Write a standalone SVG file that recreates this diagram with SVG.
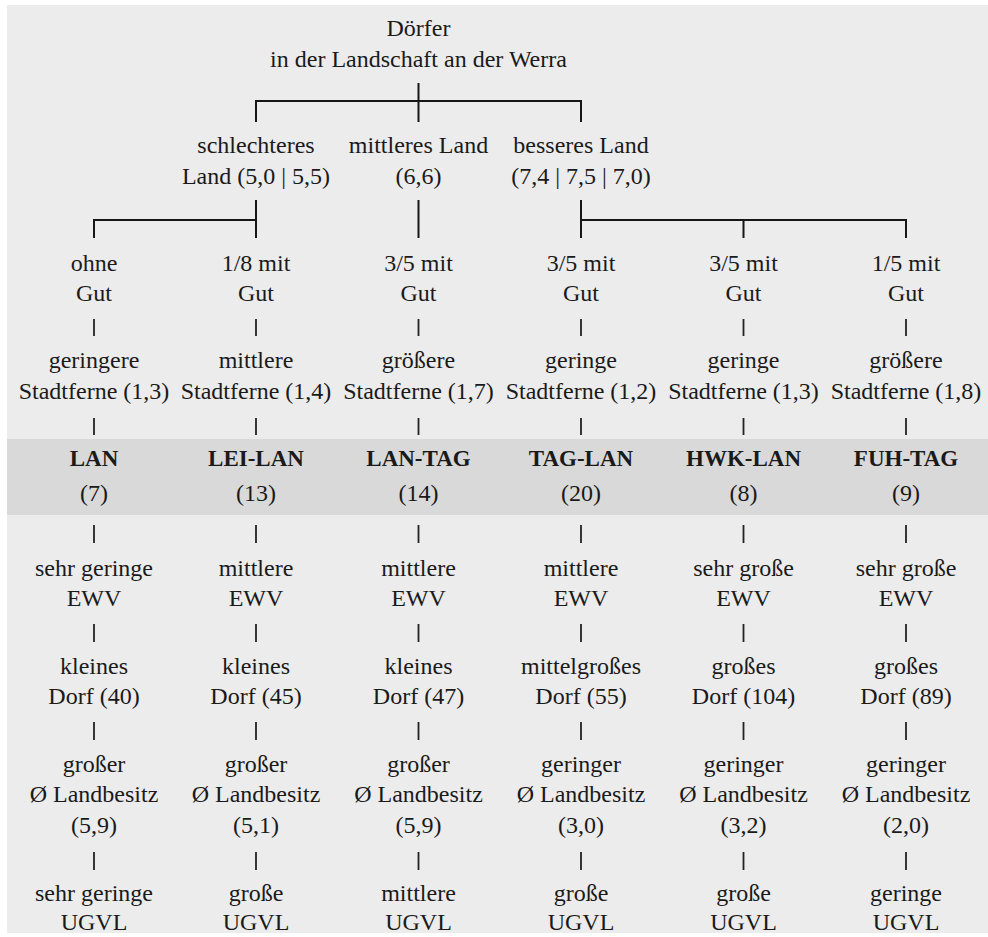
<svg xmlns="http://www.w3.org/2000/svg" width="988" height="937" viewBox="0 0 988 937">
<style>
text{font-family:"Liberation Serif","Times New Roman",serif;font-size:24px;fill:#1a1a1a;text-anchor:middle}
.b{font-weight:bold;font-size:23px}
.c line{stroke:#161616;stroke-width:2}
.p line{stroke:#222;stroke-width:1.8}
</style>
<rect x="0" y="0" width="988" height="937" fill="#ffffff"/>
<rect x="7" y="5" width="981" height="928" fill="#ececec"/>
<rect x="7" y="439" width="981" height="76" fill="#d9d9d9"/>
<g id="connectors">
<g class="c">
<line x1="418.5" y1="83" x2="418.5" y2="122"/>
<line x1="255" y1="101" x2="582" y2="101"/>
<line x1="256" y1="100" x2="256" y2="122"/>
<line x1="581" y1="100" x2="581" y2="122"/>
<line x1="256" y1="200" x2="256" y2="238"/>
<line x1="93" y1="220" x2="257" y2="220"/>
<line x1="94" y1="219" x2="94" y2="238"/>
<line x1="418.5" y1="200" x2="418.5" y2="238"/>
<line x1="581" y1="200" x2="581" y2="238"/>
<line x1="580" y1="220" x2="907" y2="220"/>
<line x1="743.5" y1="220" x2="743.5" y2="238"/>
<line x1="906" y1="219" x2="906" y2="238"/>
</g>
<g class="p">
<line x1="94" y1="319" x2="94" y2="336"/><line x1="256" y1="319" x2="256" y2="336"/><line x1="418.5" y1="319" x2="418.5" y2="336"/><line x1="581" y1="319" x2="581" y2="336"/><line x1="743.5" y1="319" x2="743.5" y2="336"/><line x1="906" y1="319" x2="906" y2="336"/>
<line x1="94" y1="418" x2="94" y2="435"/><line x1="256" y1="418" x2="256" y2="435"/><line x1="418.5" y1="418" x2="418.5" y2="435"/><line x1="581" y1="418" x2="581" y2="435"/><line x1="743.5" y1="418" x2="743.5" y2="435"/><line x1="906" y1="418" x2="906" y2="435"/>
<line x1="94" y1="525" x2="94" y2="543"/><line x1="256" y1="525" x2="256" y2="543"/><line x1="418.5" y1="525" x2="418.5" y2="543"/><line x1="581" y1="525" x2="581" y2="543"/><line x1="743.5" y1="525" x2="743.5" y2="543"/><line x1="906" y1="525" x2="906" y2="543"/>
<line x1="94" y1="624" x2="94" y2="642"/><line x1="256" y1="624" x2="256" y2="642"/><line x1="418.5" y1="624" x2="418.5" y2="642"/><line x1="581" y1="624" x2="581" y2="642"/><line x1="743.5" y1="624" x2="743.5" y2="642"/><line x1="906" y1="624" x2="906" y2="642"/>
<line x1="94" y1="722" x2="94" y2="740"/><line x1="256" y1="722" x2="256" y2="740"/><line x1="418.5" y1="722" x2="418.5" y2="740"/><line x1="581" y1="722" x2="581" y2="740"/><line x1="743.5" y1="722" x2="743.5" y2="740"/><line x1="906" y1="722" x2="906" y2="740"/>
<line x1="94" y1="852" x2="94" y2="870"/><line x1="256" y1="852" x2="256" y2="870"/><line x1="418.5" y1="852" x2="418.5" y2="870"/><line x1="581" y1="852" x2="581" y2="870"/><line x1="743.5" y1="852" x2="743.5" y2="870"/><line x1="906" y1="852" x2="906" y2="870"/>
</g>
</g>
<g id="root"><text x="418.5" y="36">Dörfer</text><text x="418.5" y="67">in der Landschaft an der Werra</text></g>
<g id="land-schlecht"><text x="256" y="153">schlechteres</text><text x="256" y="184">Land (5,0 | 5,5)</text></g>
<g id="land-mittel"><text x="418.5" y="153">mittleres Land</text><text x="418.5" y="184">(6,6)</text></g>
<g id="land-besser"><text x="581" y="153">besseres Land</text><text x="581" y="184">(7,4 | 7,5 | 7,0)</text></g>
<g id="gut-1"><text x="94" y="271">ohne</text><text x="94" y="301">Gut</text></g>
<g id="gut-2"><text x="256" y="271">1/8 mit</text><text x="256" y="301">Gut</text></g>
<g id="gut-3"><text x="418.5" y="271">3/5 mit</text><text x="418.5" y="301">Gut</text></g>
<g id="gut-4"><text x="581" y="271">3/5 mit</text><text x="581" y="301">Gut</text></g>
<g id="gut-5"><text x="743.5" y="271">3/5 mit</text><text x="743.5" y="301">Gut</text></g>
<g id="gut-6"><text x="906" y="271">1/5 mit</text><text x="906" y="301">Gut</text></g>
<g id="stadt-1"><text x="94" y="368">geringere</text><text x="94" y="399">Stadtferne (1,3)</text></g>
<g id="stadt-2"><text x="256" y="368">mittlere</text><text x="256" y="399">Stadtferne (1,4)</text></g>
<g id="stadt-3"><text x="418.5" y="368">größere</text><text x="418.5" y="399">Stadtferne (1,7)</text></g>
<g id="stadt-4"><text x="581" y="368">geringe</text><text x="581" y="399">Stadtferne (1,2)</text></g>
<g id="stadt-5"><text x="743.5" y="368">geringe</text><text x="743.5" y="399">Stadtferne (1,3)</text></g>
<g id="stadt-6"><text x="906" y="368">größere</text><text x="906" y="399">Stadtferne (1,8)</text></g>
<g id="typ-1"><text class="b" x="94" y="466">LAN</text><text x="94" y="501">(7)</text></g>
<g id="typ-2"><text class="b" x="256" y="466">LEI-LAN</text><text x="256" y="501">(13)</text></g>
<g id="typ-3"><text class="b" x="418.5" y="466">LAN-TAG</text><text x="418.5" y="501">(14)</text></g>
<g id="typ-4"><text class="b" x="581" y="466">TAG-LAN</text><text x="581" y="501">(20)</text></g>
<g id="typ-5"><text class="b" x="743.5" y="466">HWK-LAN</text><text x="743.5" y="501">(8)</text></g>
<g id="typ-6"><text class="b" x="906" y="466">FUH-TAG</text><text x="906" y="501">(9)</text></g>
<g id="ewv-1"><text x="94" y="576">sehr geringe</text><text x="94" y="606">EWV</text></g>
<g id="ewv-2"><text x="256" y="576">mittlere</text><text x="256" y="606">EWV</text></g>
<g id="ewv-3"><text x="418.5" y="576">mittlere</text><text x="418.5" y="606">EWV</text></g>
<g id="ewv-4"><text x="581" y="576">mittlere</text><text x="581" y="606">EWV</text></g>
<g id="ewv-5"><text x="743.5" y="576">sehr große</text><text x="743.5" y="606">EWV</text></g>
<g id="ewv-6"><text x="906" y="576">sehr große</text><text x="906" y="606">EWV</text></g>
<g id="dorf-1"><text x="94" y="674">kleines</text><text x="94" y="704">Dorf (40)</text></g>
<g id="dorf-2"><text x="256" y="674">kleines</text><text x="256" y="704">Dorf (45)</text></g>
<g id="dorf-3"><text x="418.5" y="674">kleines</text><text x="418.5" y="704">Dorf (47)</text></g>
<g id="dorf-4"><text x="581" y="674">mittelgroßes</text><text x="581" y="704">Dorf (55)</text></g>
<g id="dorf-5"><text x="743.5" y="674">großes</text><text x="743.5" y="704">Dorf (104)</text></g>
<g id="dorf-6"><text x="906" y="674">großes</text><text x="906" y="704">Dorf (89)</text></g>
<g id="land-1"><text x="94" y="772">großer</text><text x="94" y="802">Ø Landbesitz</text><text x="94" y="833">(5,9)</text></g>
<g id="land-2"><text x="256" y="772">großer</text><text x="256" y="802">Ø Landbesitz</text><text x="256" y="833">(5,1)</text></g>
<g id="land-3"><text x="418.5" y="772">großer</text><text x="418.5" y="802">Ø Landbesitz</text><text x="418.5" y="833">(5,9)</text></g>
<g id="land-4"><text x="581" y="772">geringer</text><text x="581" y="802">Ø Landbesitz</text><text x="581" y="833">(3,0)</text></g>
<g id="land-5"><text x="743.5" y="772">geringer</text><text x="743.5" y="802">Ø Landbesitz</text><text x="743.5" y="833">(3,2)</text></g>
<g id="land-6"><text x="906" y="772">geringer</text><text x="906" y="802">Ø Landbesitz</text><text x="906" y="833">(2,0)</text></g>
<g id="ugvl-1"><text x="94" y="901">sehr geringe</text><text x="94" y="930">UGVL</text></g>
<g id="ugvl-2"><text x="256" y="901">große</text><text x="256" y="930">UGVL</text></g>
<g id="ugvl-3"><text x="418.5" y="901">mittlere</text><text x="418.5" y="930">UGVL</text></g>
<g id="ugvl-4"><text x="581" y="901">große</text><text x="581" y="930">UGVL</text></g>
<g id="ugvl-5"><text x="743.5" y="901">große</text><text x="743.5" y="930">UGVL</text></g>
<g id="ugvl-6"><text x="906" y="901">geringe</text><text x="906" y="930">UGVL</text></g>
</svg>
